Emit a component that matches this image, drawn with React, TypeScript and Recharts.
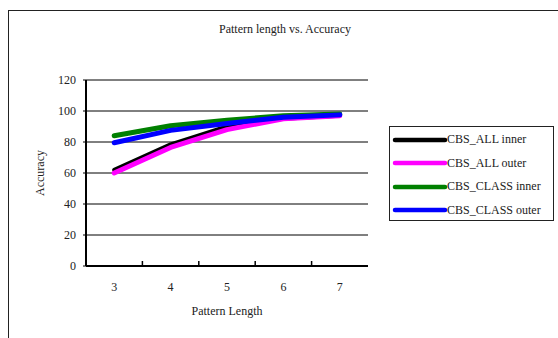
import { CartesianGrid, Legend, Line, LineChart, XAxis, YAxis } from "recharts";

const lengths = ["3", "4", "5", "6", "7"];
const allInner = [62, 78.5, 90, 95, 97];
const allOuter = [60, 76.5, 88, 95, 97];
const classInner = [84, 90.5, 94, 97, 98];
const classOuter = [79.5, 87.5, 92, 96, 97.5];
const yTicks = [0, 20, 40, 60, 80, 100, 120];

const series = [
  { key: "allInner", name: "CBS_ALL inner", color: "#000000", width: 4 },
  { key: "allOuter", name: "CBS_ALL outer", color: "#ff00ff", width: 5 },
  { key: "classInner", name: "CBS_CLASS inner", color: "#008000", width: 5 },
  { key: "classOuter", name: "CBS_CLASS outer", color: "#0000ff", width: 5 },
];

const data = lengths.map((len, i) => ({
  len,
  allInner: allInner[i],
  allOuter: allOuter[i],
  classInner: classInner[i],
  classOuter: classOuter[i],
}));

const FONT = '"Liberation Serif", "Times New Roman", serif';
const TEXT = "#222";

function XTick(props: any) {
  const { x, y, payload, index, width } = props;
  const off = payload?.offset || width / (lengths.length * 2);
  return (
    <g>
      <text x={x} y={y + 21} textAnchor="middle" dominantBaseline="central" fontFamily={FONT} fontSize={12} fill={TEXT}>
        {payload.value}
      </text>
      {index > 0 && <line x1={x - off} x2={x - off} y1={y} y2={y - 5} stroke="#000" strokeWidth={1.5} />}
    </g>
  );
}

function LegendBox({ payload }: any) {
  return (
    <div style={{ width: 165, height: 95, border: "1.5px solid #222", boxSizing: "border-box", background: "#fff", paddingTop: 1 }}>
      {(payload || []).map((p: any) => (
        <div key={p.value} style={{ display: "flex", alignItems: "center", height: 23.5 }}>
          <svg width={56} height={8} style={{ marginLeft: 2 }}>
            <line x1={3} x2={53} y1={4} y2={4} stroke={p.color} strokeWidth={4.5} strokeLinecap="round" />
          </svg>
          <span style={{ fontFamily: FONT, fontSize: 12, color: TEXT, marginLeft: -1 }}>{p.value}</span>
        </div>
      ))}
    </div>
  );
}

export default function App() {
  return (
    <div style={{ position: "fixed", left: 0, top: 0, width: 558, height: 338, overflow: "hidden", background: "#fff" }}>
      <div style={{ position: "absolute", left: 8, top: 10, width: 620, height: 420, border: "1.5px solid #222" }} />
      <div style={{ position: "absolute", left: 285, top: 29, transform: "translate(-50%, -50%)", fontFamily: FONT, fontSize: 12, color: TEXT, whiteSpace: "nowrap" }}>
        Pattern length vs. Accuracy
      </div>
      <div style={{ position: "absolute", left: 227, top: 311, transform: "translate(-50%, -50%)", fontFamily: FONT, fontSize: 12, color: TEXT, whiteSpace: "nowrap" }}>
        Pattern Length
      </div>
      <div style={{ position: "absolute", left: 40, top: 173, transform: "translate(-50%, -50%) rotate(-90deg)", fontFamily: FONT, fontSize: 12, color: TEXT, whiteSpace: "nowrap" }}>
        Accuracy
      </div>
      <div style={{ position: "absolute", left: 0, top: 0 }}>
        <LineChart width={558} height={338} data={data} margin={{ top: 80, right: 190, bottom: 42, left: 40 }}>
          <CartesianGrid horizontal vertical={false} stroke="#000" strokeWidth={1} />
          <XAxis xAxisId="top" dataKey="len" scale="band" orientation="top" height={0} tick={false} tickLine={false} axisLine={{ stroke: "#8a8a8a", strokeWidth: 2 }} />
          <YAxis yAxisId="right" orientation="right" width={0} domain={[0, 120]} ticks={yTicks} tick={false} tickLine={false} axisLine={{ stroke: "#8a8a8a", strokeWidth: 2 }} />
          <XAxis
            dataKey="len"
            scale="band"
            height={30}
            tickSize={0}
            tickMargin={0}
            tickLine={false}
            axisLine={{ stroke: "#000", strokeWidth: 2 }}
            tick={<XTick />}
            interval={0}
          />
          <YAxis
            width={46}
            domain={[0, 120]}
            ticks={yTicks}
            interval={0}
            tickSize={3}
            tickMargin={7}
            tickLine={{ stroke: "#000" }}
            axisLine={{ stroke: "#000", strokeWidth: 2 }}
            tick={{ fontFamily: FONT, fontSize: 12, fill: TEXT }}
          />
          <Legend
            layout="horizontal"
            verticalAlign="middle"
            align="center"
            content={<LegendBox />}
            wrapperStyle={{ left: 389, top: 126, width: 165, height: 95 }}
          />
          {series.map((s) => (
            <Line
              key={s.key}
              dataKey={s.key}
              name={s.name}
              stroke={s.color}
              strokeWidth={s.width}
              strokeLinecap="round"
              strokeLinejoin="round"
              dot={false}
              activeDot={false}
              isAnimationActive={false}
            />
          ))}
        </LineChart>
      </div>
    </div>
  );
}
